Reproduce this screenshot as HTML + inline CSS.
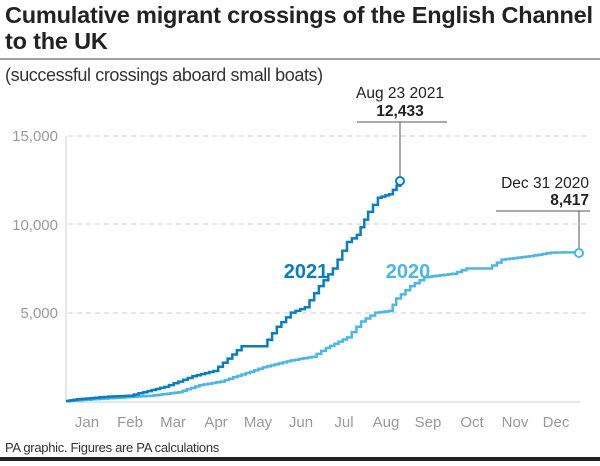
<!DOCTYPE html>
<html><head><meta charset="utf-8"><style>
body{margin:0;background:#fff;width:600px;height:461px;overflow:hidden;font-family:"Liberation Sans",sans-serif}
</style></head><body>
<svg id="s" width="600" height="461" xmlns="http://www.w3.org/2000/svg" font-family="Liberation Sans, sans-serif">
<text x="5" y="23" font-size="23.5" font-weight="bold" fill="#222" letter-spacing="-0.2">Cumulative migrant crossings of the English Channel</text>
<text x="5" y="49" font-size="23.5" font-weight="bold" fill="#222" letter-spacing="-0.2">to the UK</text>
<line x1="0" y1="59" x2="600" y2="59" stroke="#666" stroke-width="1.2"/>
<text x="5" y="81" font-size="18" fill="#333" letter-spacing="-0.4">(successful crossings aboard small boats)</text>
<g stroke="#ccc" stroke-dasharray="5,4" stroke-width="1">
<line x1="68" y1="136" x2="590" y2="136"/><line x1="68" y1="224" x2="590" y2="224"/><line x1="68" y1="313" x2="590" y2="313"/>
</g>
<line x1="66" y1="136" x2="66" y2="402" stroke="#ccc"/>
<line x1="66" y1="402" x2="580" y2="402" stroke="#ccc"/>
<g font-size="15" fill="#999" text-anchor="end">
<text x="58" y="141">15,000</text><text x="58" y="230">10,000</text><text x="58" y="318">5,000</text>
</g>
<g font-size="15" fill="#999" text-anchor="middle">
<text x="87" y="427">Jan</text><text x="130" y="427">Feb</text><text x="173" y="427">Mar</text><text x="216" y="427">Apr</text><text x="258" y="427">May</text><text x="301" y="427">Jun</text><text x="344" y="427">Jul</text><text x="386" y="427">Aug</text><text x="428" y="427">Sep</text><text x="472" y="427">Oct</text><text x="515" y="427">Nov</text><text x="556" y="427">Dec</text>
</g>
<path id="p20" fill="none" stroke="#4db6e4" stroke-width="2.5"/>
<path id="p21" fill="none" stroke="#0b7dbd" stroke-width="2.5"/>
<circle cx="579" cy="253" r="4" fill="#fff" stroke="#4db6e4" stroke-width="2"/>
<circle cx="400" cy="181" r="4" fill="#fff" stroke="#0b7dbd" stroke-width="2"/>
<text x="306" y="278" font-size="20" font-weight="bold" fill="#0b7dbd" text-anchor="middle">2021</text>
<text x="408" y="278" font-size="20" font-weight="bold" fill="#4db6e4" text-anchor="middle">2020</text>
<text x="400" y="98" font-size="15.5" fill="#222" text-anchor="middle">Aug 23 2021</text>
<text x="400" y="116" font-size="15.5" font-weight="bold" fill="#222" text-anchor="middle">12,433</text>
<line x1="357" y1="122" x2="447" y2="122" stroke="#555"/>
<line x1="400" y1="122" x2="400" y2="176" stroke="#555"/>
<text x="589" y="188" font-size="15.5" fill="#222" text-anchor="end">Dec 31 2020</text>
<text x="589" y="205" font-size="15.5" font-weight="bold" fill="#222" text-anchor="end">8,417</text>
<line x1="496" y1="211" x2="590" y2="211" stroke="#555"/>
<line x1="579" y1="211" x2="579" y2="248" stroke="#555"/>
<text x="5" y="452" font-size="13" fill="#333" letter-spacing="-0.3">PA graphic. Figures are PA calculations</text>
<rect x="0" y="457" width="600" height="4" fill="#222"/>
</svg>
<script>
function mk(id,pts){
 var d="",px=null,py=null;
 function X(t){return 66+t*1.405} function Y(v){return 401-v*0.01767}
 for(var i=0;i<pts.length-1;i++){
  var a=pts[i],b=pts[i+1];
  var n=Math.max(1,Math.round((b[0]-a[0])/3));
  for(var k=0;k<=n;k++){
   var t=a[0]+(b[0]-a[0])*k/n,v=a[1]+(b[1]-a[1])*k/n;
   var x=X(t),y=Y(v);
   if(px===null)d+="M"+x.toFixed(1)+" "+y.toFixed(1);
   else d+="H"+x.toFixed(1)+"V"+y.toFixed(1);
   px=x;py=y;
  }
 }
 document.getElementById(id).setAttribute("d",d);
}
mk("p21",[[0,0],[8,100],[30,250],[45,300],[55,500],[70,800],[80,1100],[90,1400],[105,1700],[115,2400],[125,3100],[140,3100],[150,4200],[160,5000],[170,5300],[180,6500],[190,7500],[200,9000],[207,9400],[215,10700],[222,11500],[230,11700],[238,12433]]);
mk("p20",[[0,0],[30,150],[60,300],[80,500],[95,900],[110,1100],[125,1500],[140,1900],[160,2300],[175,2500],[185,3000],[200,3600],[210,4500],[220,5000],[230,5100],[235,5800],[245,6500],[255,7000],[275,7200],[285,7500],[300,7500],[310,8000],[330,8200],[345,8400],[365,8417]]);
</script>
</body></html>
